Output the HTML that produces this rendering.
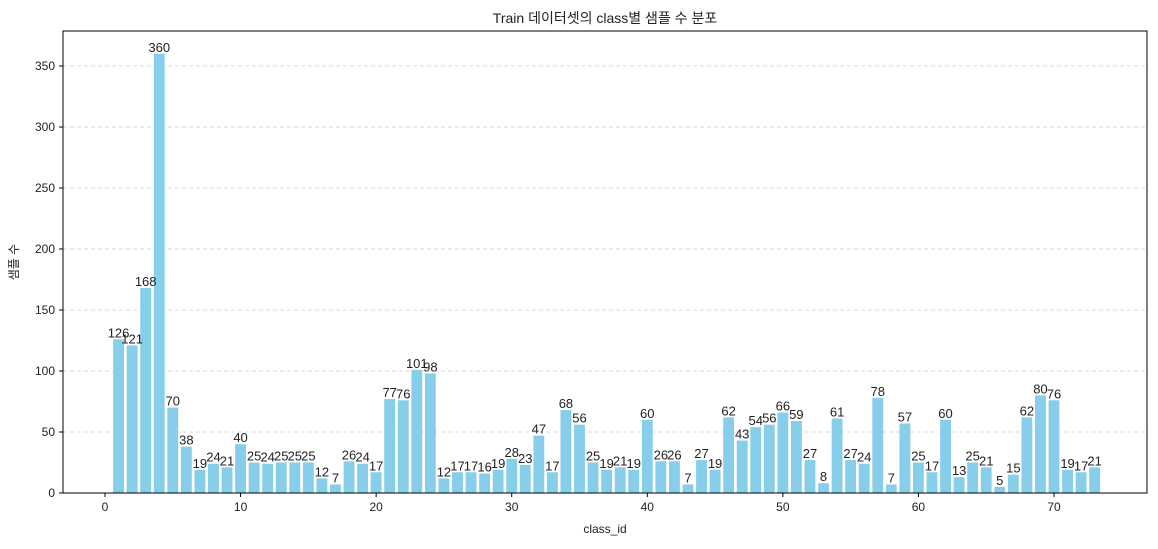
<!DOCTYPE html>
<html><head><meta charset="utf-8"><style>
body{margin:0;background:#fff;}
svg text{font-family:"Liberation Sans","Noto Sans CJK KR",sans-serif;fill:#222;}
</style></head><body>
<svg id="c" width="1158" height="544" xmlns="http://www.w3.org/2000/svg">
<text x="605" y="23" font-size="14" text-anchor="middle">Train 데이터셋의 class별 샘플 수 분포</text>
<text x="605" y="533" font-size="12" text-anchor="middle">class_id</text>
<text transform="translate(18,262) rotate(-90)" font-size="12" text-anchor="middle">샘플 수</text>
<g id="grid"></g><g id="bars"></g><g id="labels"></g><g id="axes"></g>
<rect x="63" y="31" width="1084" height="462" fill="none" stroke="#000" stroke-width="1"/>
</svg>
<script>
const classIds=[];for(let i=1;i<=73;i++)classIds.push(i);
const counts=[126,121,168,360,70,38,19,24,21,40,25,24,25,25,25,12,7,26,24,17,77,76,101,98,12,17,17,16,19,28,23,47,17,68,56,25,19,21,19,60,26,26,7,27,19,62,43,54,56,66,59,27,8,61,27,24,78,7,57,25,17,60,13,25,21,5,15,62,80,76,19,17,21];
const xTicks=[0,10,20,30,40,50,60,70];
const yTicks=[0,50,100,150,200,250,300,350];
const NS="http://www.w3.org/2000/svg";
const X=v=>105+v*(1054-105)/70;
const Y=v=>493-v*(493-66)/350;
function mk(t,a,p){const e=document.createElementNS(NS,t);for(const k in a)e.setAttribute(k,a[k]);p.appendChild(e);return e;}
const grid=document.getElementById('grid'),bars=document.getElementById('bars'),labels=document.getElementById('labels'),axes=document.getElementById('axes');
yTicks.forEach(v=>{
 const l=mk('line',{x1:63,x2:1147,y1:Y(v),y2:Y(v),stroke:'#ccc','stroke-dasharray':'4,3','stroke-width':0.8},grid);
 
 
 const tk=mk('line',{x1:59,x2:63,y1:Y(v),y2:Y(v),stroke:'#000'},axes);
 
 
 const t=mk('text',{x:55,y:Y(v)+4,'font-size':12,'text-anchor':'end'},axes);t.textContent=v;
 
 
});
xTicks.forEach(v=>{
 const tk=mk('line',{x1:X(v),x2:X(v),y1:493,y2:497,stroke:'#000'},axes);
 
 
 const t=mk('text',{x:X(v),y:511,'font-size':12,'text-anchor':'middle'},axes);t.textContent=v;
 
 
});
const w=0.8*(1054-105)/70;
classIds.forEach((c,i)=>{
 const v=counts[i];
 const r=mk('rect',{x:X(c)-w/2,y:Y(v),width:w,height:493-Y(v),fill:'#87CEEB'},bars);
 
 
 const t=mk('text',{x:X(c),y:Y(v)-2,'font-size':13,'text-anchor':'middle'},labels);t.textContent=v;
 
 
});
</script>
</body></html>
